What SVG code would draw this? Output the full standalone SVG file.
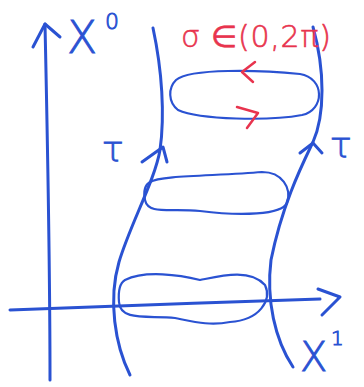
<svg xmlns="http://www.w3.org/2000/svg" width="364" height="387" viewBox="0 0 364 387">
<style>
.b{fill:none;stroke:#2a52d2;stroke-width:3;stroke-linecap:round;stroke-linejoin:round}
.bt{stroke-width:2.2}
.r{fill:none;stroke:#e8344e;stroke-width:2.5;stroke-linecap:round;stroke-linejoin:round}
.tb{fill:#2a52d2;stroke:#2a52d2;stroke-width:0.9;font-family:"DejaVu Sans",sans-serif;font-weight:200}
.tr{fill:#e8344e;stroke:#e8344e;stroke-width:0.6;font-family:"DejaVu Sans",sans-serif;font-weight:200}
</style>
<rect width="364" height="387" fill="#fff"/>
<g id="axes">
<path class="b" d="M45,24 C47,120 50,250 50,380"/>
<path class="b" d="M33,47 L45,24 L60,37"/>
<path class="b" d="M10,310 C100,307 220,302 320,299"/>
<path class="b" d="M318,289 L340,297 L322,315"/>
</g>
<g id="worldsheet">
<path class="b" d="M153,28 C162,70 165,115 160,150 C155,180 130,225 119,262 C108,300 115,345 130,375"/>
<path class="b" d="M142,162 L163,147 L167,162"/>
<path class="b" d="M313,27 C325,70 325,115 313,142 C302,165 282,205 271,260 C266,300 275,340 293,367"/>
<path class="b" d="M300,153 L313,143 L322,153"/>
</g>
<g id="loops">
<path class="b bt" d="M176,80 C190,68 260,70 300,74 C325,78 325,110 302,115 C270,121 200,120 178,110 C168,102 168,88 176,80 Z"/>
<path class="b bt" d="M150,182 C160,175 220,176 262,172 C282,172 292,188 287,203 C282,215 240,216 200,211 C170,208 148,215 145,200 C143,190 145,185 150,182 Z"/>
<path class="b bt" d="M125,280 C145,270 180,275 200,280 C220,276 250,268 265,285 C272,300 260,320 230,322 C210,326 195,322 175,318 C150,315 120,322 119,302 C118,290 120,283 125,280 Z"/>
</g>
<g id="orientation">
<path class="r" d="M255,62 L242,72 L253,82"/>
<path class="r" d="M237,107 L258,113 L247,128"/>
</g>
<g id="labels">
<text class="tb" x="67" y="53" font-size="44">X</text>
<text class="tb" x="105" y="29" font-size="22">0</text>
<text class="tb" x="102" y="162" font-size="36">τ</text>
<text class="tb" x="330" y="158" font-size="36">τ</text>
<text class="tb" x="300" y="371" font-size="40">X</text>
<text class="tb" x="331" y="345" font-size="20">1</text>
<text class="tr" x="181" y="47" font-size="30" textLength="150" lengthAdjust="spacing">σ ∈(0,2π)</text>
</g>
</svg>
